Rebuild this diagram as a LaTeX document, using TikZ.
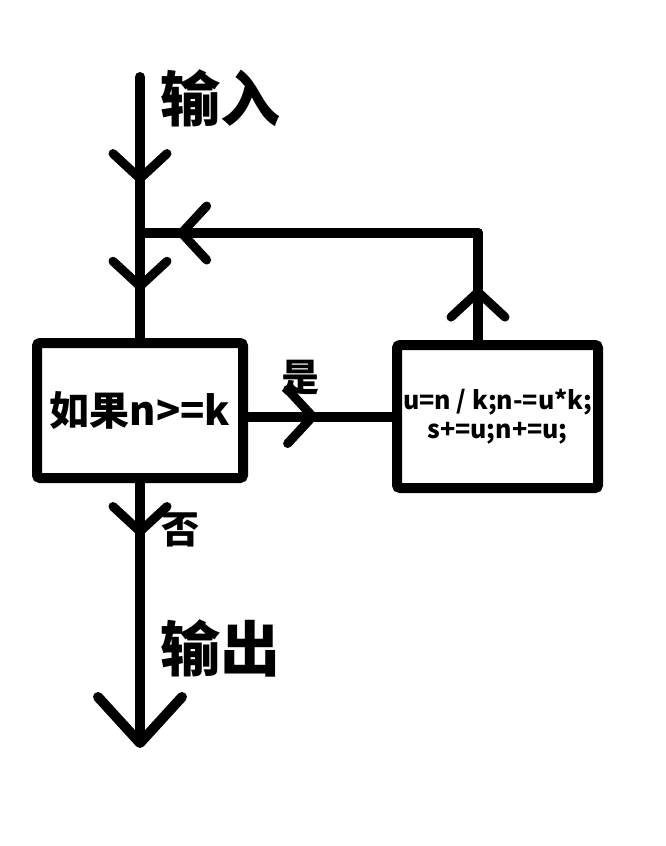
\documentclass[tikz,border=0pt]{standalone}
\usepackage{fontspec}
\setmainfont{Noto Sans CJK SC}
\usepackage{tikz}
\usetikzlibrary{positioning,calc,decorations.markings,arrows.meta}

\begin{document}
\begin{tikzpicture}[x=1pt, y=-1pt,
    flow/.style={line width=10pt, line cap=round},
    box/.style={draw, line width=10pt, rounded corners=3pt, inner sep=0pt},
    bigtext/.style={font=\bfseries\fontsize{60}{60}\selectfont},
    midtext/.style={font=\bfseries\fontsize{38}{38}\selectfont},
    midarrow/.style={postaction={decorate, decoration={markings,
        mark=at position #1 with {\arrow{Straight Barb[length=25pt, width=54pt, line width=9pt, round]}}}}}]
    \useasboundingbox (0,0) rectangle (666,846);

    % points on the main line
    \coordinate (in) at (140,77);
    \coordinate (join) at (140,233);
    \coordinate (fb) at (478,233);
    \coordinate (out) at (140,748);

    % boxes
    \node[box, minimum width=206pt, minimum height=135pt] (cond) at (140,410.5)
        {\fontsize{40}{40}\selectfont\bfseries 如果n>=k};
    \node[box, minimum width=201pt, minimum height=143pt, align=center,
        font=\bfseries\fontsize{25}{29}\selectfont] (body) at (497.5,416.5)
        {u=n / k;n-=u*k;\\s+=u;n+=u;};

    % labels
    \node[bigtext] (inlabel) at (220,98) {输入};
    \node[bigtext] (outlabel) at (220,648) {输出};
    \node[midtext] (yes) at (300,378) {是};
    \node[midtext] (no) at (180,530) {否};

    % connectors
    \draw[flow, midarrow=0.68] (in) -- (join);
    \draw[flow, midarrow=0.55] (join) -- (cond.north);
    \draw[flow, midarrow=0.48] (cond.east |- body.west) -- (body.west);
    \draw[flow, midarrow=0.49] (body.north -| fb) -- (fb);
    \draw[flow, midarrow=0.89] (fb) -- (join);
    \draw[flow, midarrow=0.2, -{Straight Barb[length=46pt, width=84pt, line width=10pt, round]}] (cond.south) -- (out);
\end{tikzpicture}
\end{document}
